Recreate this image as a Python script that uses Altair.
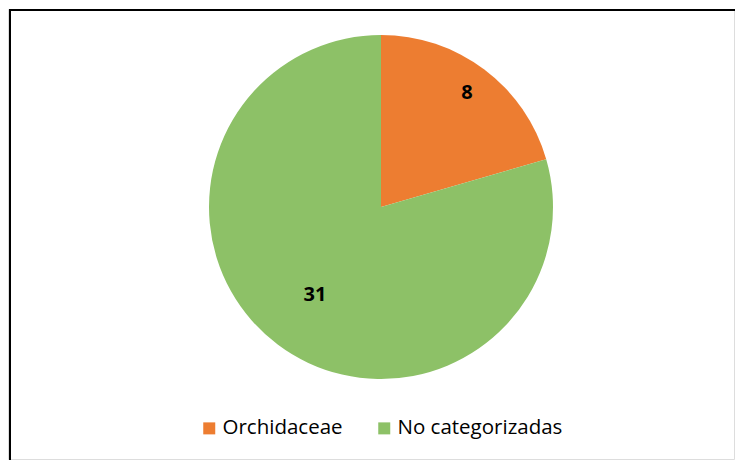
import altair as alt
import pandas as pd

categories = ["Orchidaceae", "No categorizadas"]
values = [8, 31]
colors = ["#ED7D31", "#8DC167"]

df = pd.DataFrame({"cat": categories, "val": values, "idx": list(range(len(categories)))})

W, H = 727, 452
CX, CY, R = 373, 198, 172

base = alt.Chart(df)

arc = base.mark_arc(strokeWidth=0).encode(
    theta=alt.Theta("val:Q", stack=True),
    order=alt.Order("idx:Q"),
    color=alt.Color(
        "cat:N",
        scale=alt.Scale(domain=categories, range=colors),
        legend=alt.Legend(
            title=None,
            orient="none",
            direction="horizontal",
            legendX=191,
            legendY=409,
            symbolType="square",
            symbolSize=144,
            symbolStrokeWidth=0,
            labelFont="Open Sans",
            labelFontSize=20.5,
            labelColor="#000000",
            labelOffset=3,
            columnPadding=31,
            padding=0,
            labelLimit=300,
        ),
    ),
    x=alt.value(CX),
    y=alt.value(CY),
    radius=alt.value(R),
)

text = base.transform_window(
    cum="sum(val)", sort=[alt.SortField("idx")]
).transform_joinaggregate(
    total="sum(val)"
).transform_calculate(
    mid="(datum.cum - datum.val / 2) / datum.total * 2 * PI",
    lr="datum.cat == 'Orchidaceae' ? 143 : 110",
).transform_calculate(
    lx=f"{CX} + datum.lr * sin(datum.mid)",
    ly=f"{CY} - datum.lr * cos(datum.mid)",
).mark_text(font="Open Sans", fontSize=20, fontWeight="bold", color="black", baseline="middle", align="center").encode(
    text="val:Q",
    x=alt.X("lx:Q", scale=None),
    y=alt.Y("ly:Q", scale=None),
)

border_left = alt.Chart(df).mark_rule(color="black", strokeWidth=2).encode(
    x=alt.value(2), y=alt.value(0), y2=alt.value(H)
)
border_top = alt.Chart(df).mark_rule(color="black", strokeWidth=2).encode(
    x=alt.value(1), x2=alt.value(W), y=alt.value(1)
)

chart = alt.layer(arc, text, border_left, border_top).properties(
    width=W, height=H,
    autosize=alt.AutoSizeParams(type="fit", contains="padding"),
    padding=0,
).configure_view(strokeWidth=0, stroke="white").configure(background="white")

chart.save("out.html", embed_options={"renderer": "svg", "actions": False})
